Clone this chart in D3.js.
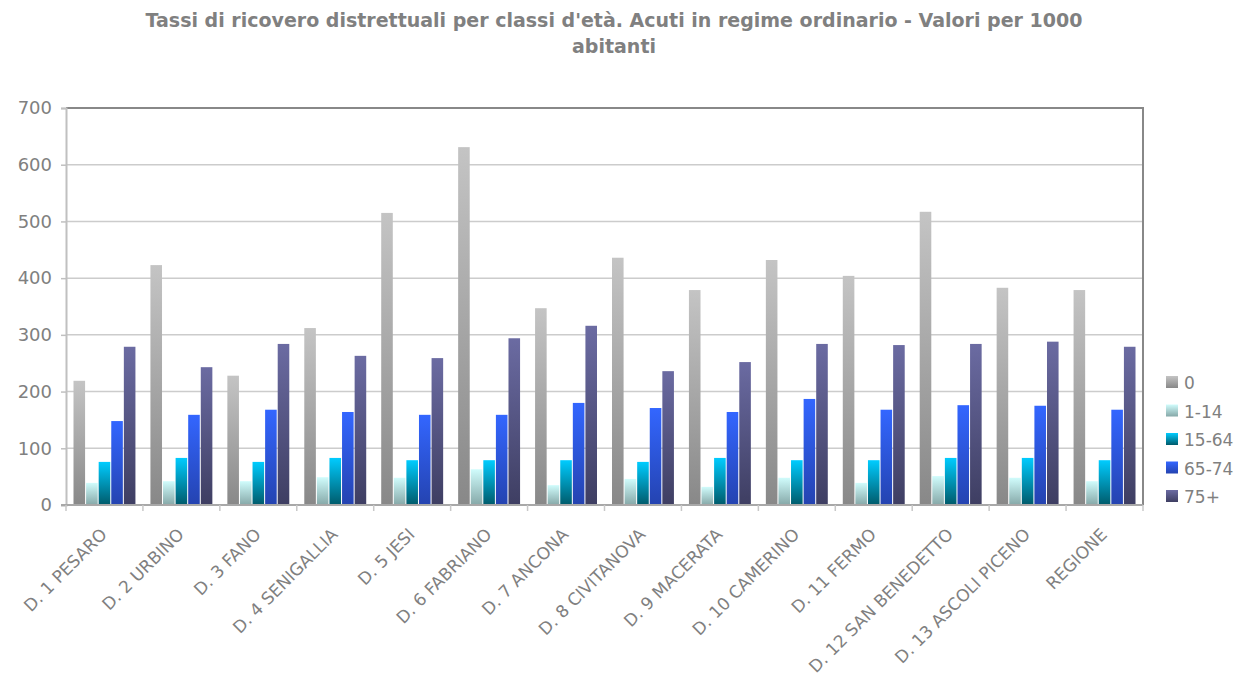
<!DOCTYPE html>
<html>
<head>
<meta charset="utf-8">
<script src="https://cdn.jsdelivr.net/npm/d3@7/dist/d3.min.js"></script>
<style>
  body { margin: 0; background: #fff; }
  svg text { font-family: "DejaVu Sans", Verdana, sans-serif; fill: #808080; }
</style>
</head>
<body>
<div id="chart"></div>
<script>
// categorie (distretti)
var districts = ["D. 1 PESARO", "D. 2 URBINO", "D. 3 FANO", "D. 4 SENIGALLIA", "D. 5 JESI",
  "D. 6 FABRIANO", "D. 7 ANCONA", "D. 8 CIVITANOVA", "D. 9 MACERATA", "D. 10 CAMERINO",
  "D. 11 FERMO", "D. 12 SAN BENEDETTO", "D. 13 ASCOLI PICENO", "REGIONE"];

// classi d'eta
var ageClasses = ["0", "1-14", "15-64", "65-74", "75+"];

// valori per 1000 abitanti, uno per classe
var rate0     = [219, 423, 228, 312, 515, 631, 347, 436, 379, 432, 404, 517, 383, 379];
var rate1_14  = [39, 42, 42, 49, 48, 63, 35, 46, 32, 48, 39, 51, 48, 42];
var rate15_64 = [76, 83, 76, 83, 79, 79, 79, 76, 83, 79, 79, 83, 83, 79];
var rate65_74 = [148, 159, 168, 164, 159, 159, 180, 171, 164, 187, 168, 176, 175, 168];
var rate75    = [279, 243, 284, 263, 259, 294, 316, 236, 252, 284, 282, 284, 288, 279];

var yTicks = [0, 100, 200, 300, 400, 500, 600, 700];

var seriesValues = [rate0, rate1_14, rate15_64, rate65_74, rate75];

// gradient top / bottom per serie
var gradTop    = ["#c4c4c4", "#d0fcfc", "#00ccff", "#3366ff", "#6b6ba2"];
var gradBottom = ["#888888", "#86a8a8", "#005a6a", "#2443b0", "#3e3e62"];

var width = 1249, height = 677;
var margin = {top: 108, right: 106, bottom: 172, left: 66};

var svg = d3.select("#chart").append("svg")
    .attr("width", width)
    .attr("height", height);

// gradients
var defs = svg.append("defs");
ageClasses.forEach(function(c, i){
    var g = defs.append("linearGradient")
        .attr("id", "grad" + i)
        .attr("x1", 0).attr("y1", 0).attr("x2", 0).attr("y2", 1);
    g.append("stop").attr("offset", "0%").attr("stop-color", gradTop[i]);
    g.append("stop").attr("offset", "100%").attr("stop-color", gradBottom[i]);
});

// title
var title = svg.append("text")
    .attr("x", 614)
    .attr("text-anchor", "middle")
    .style("font-weight", "bold")
    .style("font-size", "19px");
title.append("tspan").attr("x", 614).attr("y", 27)
    .text("Tassi di ricovero distrettuali per classi d'età. Acuti in regime ordinario - Valori per 1000");
title.append("tspan").attr("x", 614).attr("y", 53)
    .text("abitanti");

var x0 = d3.scaleBand()
    .domain(districts)
    .range([margin.left, width - margin.right])
    .paddingInner(0)
    .paddingOuter(0);

var x1 = d3.scaleBand()
    .domain(ageClasses)
    .range([7.5, x0.bandwidth() - 7.5])
    .paddingInner(0.08);

var y = d3.scaleLinear()
    .domain([0, 700])
    .range([height - margin.bottom, margin.top]);

// gridlines
svg.append("g").selectAll("line")
    .data(yTicks.filter(function(d){ return d > 0 && d < 700; }))
    .enter().append("line")
    .attr("x1", margin.left)
    .attr("x2", width - margin.right)
    .attr("y1", function(d){ return y(d); })
    .attr("y2", function(d){ return y(d); })
    .attr("stroke", "#cccccc")
    .attr("stroke-width", 1.5);

// plot border top and right
svg.append("line")
    .attr("x1", margin.left).attr("x2", width - margin.right)
    .attr("y1", y(700)).attr("y2", y(700))
    .attr("stroke", "#888888").attr("stroke-width", 2);
svg.append("line")
    .attr("x1", width - margin.right).attr("x2", width - margin.right)
    .attr("y1", y(700) - 1).attr("y2", y(0))
    .attr("stroke", "#888888").attr("stroke-width", 2);

// bars
var groups = svg.append("g").selectAll("g")
    .data(districts)
    .enter().append("g")
    .attr("transform", function(d){ return "translate(" + x0(d) + ",0)"; });

groups.selectAll("rect")
    .data(function(d, i){
        return ageClasses.map(function(c, j){ return {cls: c, idx: j, value: seriesValues[j][i]}; });
    })
    .enter().append("rect")
    .attr("x", function(d){ return x1(d.cls); })
    .attr("width", x1.bandwidth())
    .attr("y", function(d){ return y(d.value); })
    .attr("height", function(d){ return y(0) - y(d.value); })
    .attr("fill", function(d){ return "url(#grad" + d.idx + ")"; });

// y axis
var yAxis = svg.append("g")
    .attr("transform", "translate(" + margin.left + ",0)")
    .call(d3.axisLeft(y).tickValues(yTicks).tickSize(5).tickPadding(9));
yAxis.select(".domain").attr("stroke", "#c0c0c0").attr("stroke-width", 2);
yAxis.selectAll(".tick line").attr("stroke", "#c0c0c0").attr("stroke-width", 1.5);
yAxis.selectAll(".tick text")
    .attr("font-family", "DejaVu Sans")
    .attr("font-size", 18)
    .style("font-size", "18px")
    .attr("fill", "#808080");

// x axis
var xAxis = svg.append("g")
    .attr("transform", "translate(0," + y(0) + ")");
xAxis.append("line")
    .attr("x1", margin.left - 5).attr("x2", width - margin.right)
    .attr("y1", 0).attr("y2", 0)
    .attr("stroke", "#a8a8a8").attr("stroke-width", 2);
xAxis.selectAll(".xtick")
    .data(districts.concat(["end"]))
    .enter().append("line")
    .attr("x1", function(d, i){ return margin.left + i * x0.step(); })
    .attr("x2", function(d, i){ return margin.left + i * x0.step(); })
    .attr("y1", 0).attr("y2", 6)
    .attr("stroke", "#c8c8c8").attr("stroke-width", 1.5);

xAxis.selectAll(".xlabel")
    .data(districts)
    .enter().append("text")
    .attr("class", "xlabel")
    .attr("text-anchor", "end")
    .attr("dy", "0.71em")
    .attr("transform", function(d){
        return "translate(" + (x0(d) + x0.bandwidth() / 2 - 5) + ",22) rotate(-45)";
    })
    .style("font-size", "17px")
    .text(function(d){ return d; });

// legend
var legend = svg.append("g").selectAll("g")
    .data(ageClasses)
    .enter().append("g")
    .attr("transform", function(d, i){ return "translate(1166," + (376 + i * 28.5) + ")"; });
legend.append("rect")
    .attr("width", 12).attr("height", 12)
    .attr("fill", function(d, i){ return "url(#grad" + i + ")"; });
legend.append("text")
    .attr("x", 18).attr("y", 13)
    .style("font-size", "17px")
    .text(function(d){ return d; });
</script>
</body>
</html>
